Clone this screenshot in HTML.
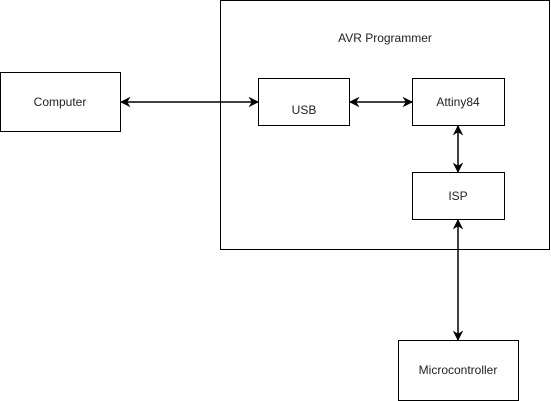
<!DOCTYPE html>
<html><head><style>body{margin:0;background:#fff}</style></head><body>
<svg width="551" height="401" xmlns="http://www.w3.org/2000/svg" style="display:block">
<defs><marker id="a" viewBox="0 0 10 10" refX="9" refY="5" markerWidth="7" markerHeight="7" orient="auto-start-reverse"><path d="M0,0 L10,5 L0,10 L3,5 Z" fill="#000"/></marker></defs>
<g fill="none" stroke="#000" stroke-width="1">
<rect x="220.5" y="0.5" width="329" height="249"/>
<rect x="0.5" y="72.5" width="120" height="59"/>
<rect x="258.5" y="78.5" width="91" height="47"/>
<rect x="412.5" y="78.5" width="92" height="47"/>
<rect x="412.5" y="172.5" width="92" height="47"/>
<rect x="398.5" y="340.5" width="120" height="60"/>
<g stroke-width="1.5">
<line x1="121" y1="102" x2="258" y2="102" marker-start="url(#a)" marker-end="url(#a)"/>
<line x1="350" y1="102" x2="412" y2="102" marker-start="url(#a)" marker-end="url(#a)"/>
<line x1="458" y1="126" x2="458" y2="172" marker-start="url(#a)" marker-end="url(#a)"/>
<line x1="458" y1="220" x2="458" y2="340" marker-start="url(#a)" marker-end="url(#a)"/>
</g></g>
<g font-family="Liberation Sans, sans-serif" font-size="12" fill="#222" text-anchor="middle">
<text x="385" y="42">AVR Programmer</text>
<text x="60" y="106">Computer</text>
<text x="304" y="114">USB</text>
<text x="458" y="106">Attiny84</text>
<text x="458" y="200">ISP</text>
<text x="458" y="374">Microcontroller</text>
</g>
</svg>
</body></html>
